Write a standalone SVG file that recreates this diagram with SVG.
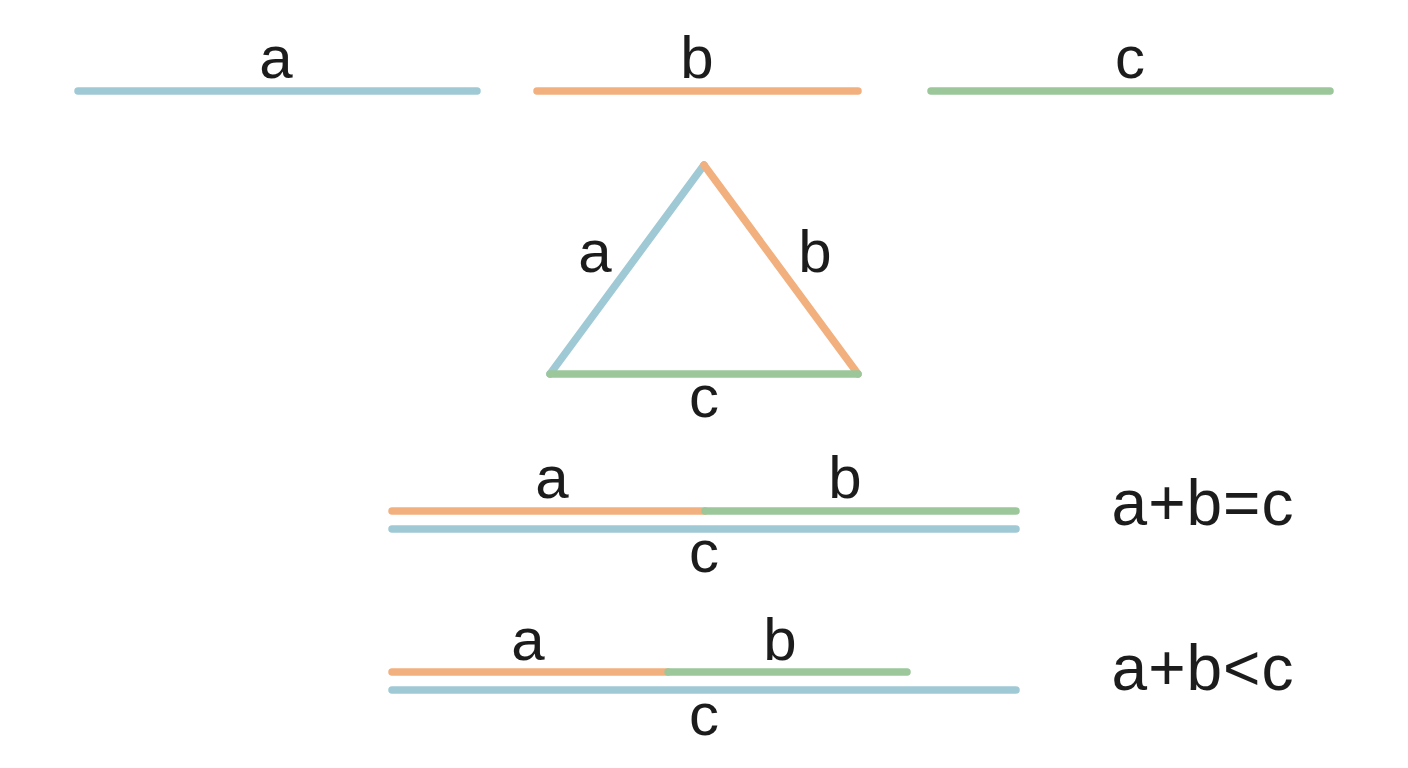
<svg xmlns="http://www.w3.org/2000/svg" width="1408" height="768" viewBox="0 0 1408 768">
<style>
.ln{stroke-width:7.5;stroke-linecap:round;fill:none}
.bl{stroke:#a0c9d6}
.or{stroke:#f2b07e}
.gr{stroke:#9bc79a}
.t{font-family:"Liberation Sans",Arial,sans-serif;font-size:60px;fill:#1c1c1c;text-anchor:middle}
.eq{font-family:"Liberation Sans",Arial,sans-serif;font-size:64px;fill:#1c1c1c;text-anchor:middle;letter-spacing:1px}
</style>
<rect width="1408" height="768" fill="#ffffff"/>
<g id="segments">
<g id="seg-a"><line class="ln bl" x1="78" y1="91" x2="477" y2="91"/><text class="t" x="276" y="78">a</text></g>
<g id="seg-b"><line class="ln or" x1="537" y1="91" x2="858" y2="91"/><text class="t" x="697" y="78">b</text></g>
<g id="seg-c"><line class="ln gr" x1="931" y1="91" x2="1330" y2="91"/><text class="t" x="1130" y="78">c</text></g>
</g>
<g id="triangle">
<line class="ln bl" x1="550" y1="374" x2="704" y2="165"/>
<line class="ln or" x1="704" y1="165" x2="858" y2="374"/>
<line class="ln gr" x1="550" y1="374" x2="858" y2="374"/>
<text class="t" x="595" y="272">a</text>
<text class="t" x="815" y="272">b</text>
<text class="t" x="704" y="417">c</text>
</g>
<g id="row-equal">
<line class="ln or" x1="392" y1="511" x2="705" y2="511"/>
<line class="ln gr" x1="705" y1="511" x2="1016" y2="511"/>
<line class="ln bl" x1="392" y1="529" x2="1016" y2="529"/>
<text class="t" x="552" y="498">a</text>
<text class="t" x="845" y="498">b</text>
<text class="t" x="704" y="572">c</text>
<text class="eq" x="1203" y="525">a+b=c</text>
</g>
<g id="row-less">
<line class="ln or" x1="392" y1="672" x2="668" y2="672"/>
<line class="ln gr" x1="668" y1="672" x2="907" y2="672"/>
<line class="ln bl" x1="392" y1="690" x2="1016" y2="690"/>
<text class="t" x="528" y="660">a</text>
<text class="t" x="780" y="660">b</text>
<text class="t" x="704" y="735">c</text>
<text class="eq" x="1203" y="690">a+b&lt;c</text>
</g>
</svg>
